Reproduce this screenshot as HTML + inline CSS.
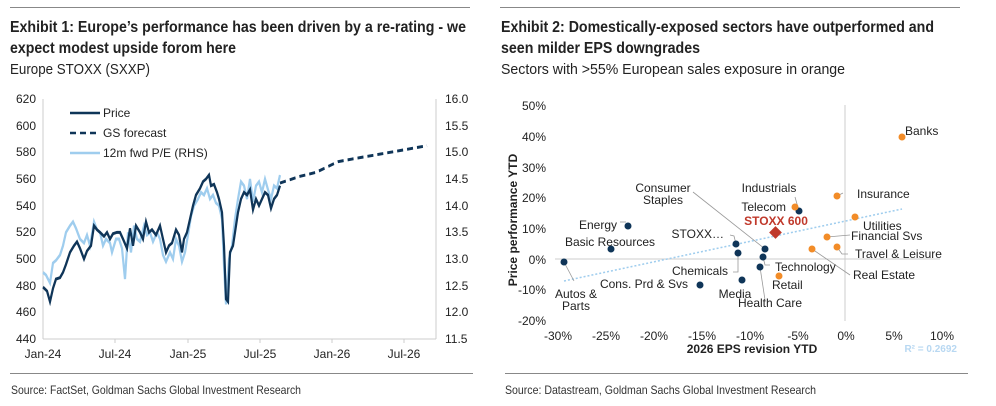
<!DOCTYPE html>
<html><head><meta charset="utf-8"><style>
html,body{margin:0;padding:0;background:#fff;}
svg{display:block;font-family:"Liberation Sans",Arial,sans-serif;}
</style></head><body>
<svg width="996" height="406" viewBox="0 0 996 406" xmlns="http://www.w3.org/2000/svg">
<line x1="10" y1="7.5" x2="470" y2="7.5" stroke="#888" stroke-width="1"/>
<line x1="500" y1="7.5" x2="960" y2="7.5" stroke="#888" stroke-width="1"/>
<g fill="#222" font-weight="bold" font-size="16">
<text x="10" y="32" textLength="456" lengthAdjust="spacingAndGlyphs">Exhibit 1: Europe’s performance has been driven by a re-rating - we</text>
<text x="10" y="53" textLength="226" lengthAdjust="spacingAndGlyphs">expect modest upside forom here</text>
<text x="501" y="32" textLength="433" lengthAdjust="spacingAndGlyphs">Exhibit 2: Domestically-exposed sectors have outperformed and</text>
<text x="501" y="53" textLength="199" lengthAdjust="spacingAndGlyphs">seen milder EPS downgrades</text>
</g>
<g fill="#222" font-size="15">
<text x="10" y="74" textLength="140" lengthAdjust="spacingAndGlyphs">Europe STOXX (SXXP)</text>
<text x="501" y="74" textLength="344" lengthAdjust="spacingAndGlyphs">Sectors with &gt;55% European sales exposure in orange</text>
</g>

<!-- LEFT CHART -->
<g stroke="#ccc" stroke-width="1">
<line x1="43" y1="99" x2="43" y2="339"/>
<line x1="43" y1="339" x2="436" y2="339"/>
<line x1="436" y1="99" x2="436" y2="339"/>
<line x1="115" y1="339" x2="115" y2="343"/><line x1="188" y1="339" x2="188" y2="343"/>
<line x1="260" y1="339" x2="260" y2="343"/><line x1="332" y1="339" x2="332" y2="343"/>
<line x1="404" y1="339" x2="404" y2="343"/>
</g>
<g fill="#222" font-size="12" text-anchor="end">
<text x="36" y="103">620</text><text x="36" y="130">600</text><text x="36" y="156">580</text>
<text x="36" y="183">560</text><text x="36" y="210">540</text><text x="36" y="236">520</text>
<text x="36" y="263">500</text><text x="36" y="290">480</text><text x="36" y="316">460</text>
<text x="36" y="343">440</text>
</g>
<g fill="#222" font-size="12">
<text x="445" y="103">16.0</text><text x="445" y="130">15.5</text><text x="445" y="156">15.0</text>
<text x="445" y="183">14.5</text><text x="445" y="210">14.0</text><text x="445" y="236">13.5</text>
<text x="445" y="263">13.0</text><text x="445" y="290">12.5</text><text x="445" y="316">12.0</text>
<text x="445" y="343">11.5</text>
</g>
<g fill="#222" font-size="12" text-anchor="middle">
<text x="43" y="358">Jan-24</text><text x="115" y="358">Jul-24</text><text x="188" y="358">Jan-25</text>
<text x="260" y="358">Jul-25</text><text x="332" y="358">Jan-26</text><text x="404" y="358">Jul-26</text>
</g>
<g transform="translate(0,925.67) scale(1,-1.3333)">
<polyline fill="none" stroke="#9fcdee" stroke-width="2.2" points="43,490 46,488 50,482 53,497 56,499 60,503 63,510 66,520 70,525 73,528 76,523 80,515 84,512 87,518 90,510 94,528 97,522 100,520 103,510 106,515 110,512 112,505 116,515 119,515 122,508 125,485 128,520 131,505 134,525 137,515 140,513 144,525 147,518 150,520 153,513 157,520 160,515 163,503 166,498 170,505 173,500 176,515 179,510 182,498 185,505 188,518 191,532 194,540 198,545 201,550 204,548 207,553 210,545 213,548 216,542 219,540 222,530 224,495 226,466 229,500 232,510 235,530 238,545 241,558 244,555 247,545 250,560 253,543 256,555 259,558 262,550 265,560 268,552 271,545 274,555 277,553 280,563"/>
<polyline fill="none" stroke="#0f3558" stroke-width="2.2" points="43,479 47,476 50,468 53,478 56,485 60,486 63,490 66,496 70,505 74,510 77,513 80,508 84,500 87,506 91,510 94,525 97,522 100,520 104,517 107,520 110,515 113,519 117,520 120,520 123,515 127,508 130,523 133,510 136,525 140,520 143,515 146,528 149,520 152,522 156,518 160,525 163,515 166,505 169,510 172,512 176,522 179,518 182,505 184,515 187,520 190,530 193,540 196,548 200,553 203,558 206,560 209,563 211,555 214,556 217,550 219,545 222,535 224,510 226,470 228,468 230,505 233,510 236,525 238,535 241,545 244,550 247,548 250,552 253,537 256,545 259,540 262,545 265,550 268,548 271,538 274,545 277,548 280,555"/>
<polyline fill="none" stroke="#0f3558" stroke-width="2.2" stroke-dasharray="6,4" points="280,557 300,562 316,565 338,573 352,575 390,580 427,585"/>
</g>
<line x1="70" y1="113" x2="100" y2="113" stroke="#0f3558" stroke-width="2.5"/>
<line x1="70" y1="133" x2="100" y2="133" stroke="#0f3558" stroke-width="2.5" stroke-dasharray="6,4"/>
<line x1="70" y1="153" x2="100" y2="153" stroke="#9fcdee" stroke-width="2.5"/>
<g fill="#222" font-size="12">
<text x="103" y="117">Price</text><text x="103" y="137">GS forecast</text><text x="103" y="157">12m fwd P/E (RHS)</text>
</g>

<!-- RIGHT CHART -->
<line x1="555" y1="259" x2="940" y2="259" stroke="#ccc"/>
<line x1="845" y1="105" x2="845" y2="321" stroke="#ccc"/>
<g fill="#222" font-size="12" text-anchor="end">
<text x="546" y="110">50%</text><text x="546" y="141">40%</text><text x="546" y="172">30%</text>
<text x="546" y="202">20%</text><text x="546" y="233">10%</text><text x="546" y="264">0%</text>
<text x="546" y="294">-10%</text><text x="546" y="325">-20%</text>
</g>
<g fill="#222" font-size="12" text-anchor="middle">
<text x="558" y="340">-30%</text><text x="606" y="340">-25%</text><text x="654" y="340">-20%</text>
<text x="702" y="340">-15%</text><text x="750" y="340">-10%</text><text x="798" y="340">-5%</text>
<text x="846" y="340">0%</text><text x="894" y="340">5%</text><text x="942" y="340">10%</text>
</g>
<text x="752" y="353" font-size="12" font-weight="bold" text-anchor="middle" fill="#222">2026 EPS revision YTD</text>
<text x="957" y="352" font-size="10" font-weight="bold" text-anchor="end" fill="#b8d8f2">R² = 0.2692</text>
<text transform="translate(517,220) rotate(-90)" font-size="12" font-weight="bold" text-anchor="middle" fill="#222">Price performance YTD</text>
<line x1="564" y1="281" x2="902" y2="209" stroke="#9fcdee" stroke-width="1.5" stroke-dasharray="2,2"/>
<g stroke="#999" stroke-width="0.8" fill="none">
<polyline points="693,192 765,249"/>
<polyline points="620,222 626,222"/>
<polyline points="730,235 734,236 736,244"/>
<polyline points="738,253 738,272 733,272"/>
<polyline points="763,257 765,265 770,265"/>
<polyline points="760,267 765,300"/>
<polyline points="564,262 574,281"/>
<polyline points="799,211 795,197"/>
<polyline points="837,196 843,193"/>
<polyline points="827,237 850,235"/>
<polyline points="837,247 842,254 848,254"/>
<polyline points="812,249 850,275"/>
</g>
<g fill="#0f3558">
<circle cx="799" cy="211" r="3.5"/><circle cx="628" cy="226" r="3.5"/><circle cx="611" cy="249" r="3.5"/>
<circle cx="736" cy="244" r="3.5"/><circle cx="765" cy="249" r="3.5"/><circle cx="738" cy="253" r="3.5"/>
<circle cx="763" cy="257" r="3.5"/><circle cx="564" cy="262" r="3.5"/><circle cx="760" cy="267" r="3.5"/>
<circle cx="742" cy="280" r="3.5"/><circle cx="700" cy="285" r="3.5"/>
</g>
<g fill="#f28c28">
<circle cx="902" cy="137" r="3.5"/><circle cx="837" cy="196" r="3.5"/><circle cx="795" cy="207" r="3.5"/>
<circle cx="855" cy="217" r="3.5"/><circle cx="827" cy="237" r="3.5"/><circle cx="837" cy="247" r="3.5"/>
<circle cx="812" cy="249" r="3.5"/><circle cx="779" cy="276" r="3.5"/>
</g>
<rect x="771" y="228" width="9" height="9" fill="#c0392b" transform="rotate(45 775.5 232.5)"/>
<text x="776" y="225" font-size="12" font-weight="bold" text-anchor="middle" fill="#c0392b">STOXX 600</text>
<g fill="#222" font-size="12">
<text x="905" y="135">Banks</text>
<text x="857" y="198">Insurance</text>
<text x="769" y="192" text-anchor="middle">Industrials</text>
<text x="786" y="211" text-anchor="end">Telecom</text>
<text x="863" y="230">Utilities</text>
<text x="851" y="240">Financial Svs</text>
<text x="855" y="258">Travel &amp; Leisure</text>
<text x="853" y="279">Real Estate</text>
<text x="775" y="271">Technology</text>
<text x="772" y="289">Retail</text>
<text x="770" y="307" text-anchor="middle">Health Care</text>
<text x="735" y="298" text-anchor="middle">Media</text>
<text x="688" y="288" text-anchor="end">Cons. Prd &amp; Svs</text>
<text x="728" y="275" text-anchor="end">Chemicals</text>
<text x="724" y="238" text-anchor="end">STOXX…</text>
<text x="655" y="246" text-anchor="end">Basic Resources</text>
<text x="617" y="229" text-anchor="end">Energy</text>
<text x="663" y="192" text-anchor="middle">Consumer</text>
<text x="663" y="204" text-anchor="middle">Staples</text>
<text x="576" y="298" text-anchor="middle">Autos &amp;</text>
<text x="576" y="310" text-anchor="middle">Parts</text>
</g>

<line x1="10" y1="373.5" x2="473" y2="373.5" stroke="#888"/>
<line x1="505" y1="373.5" x2="968" y2="373.5" stroke="#888"/>
<g fill="#333" font-size="12">
<text x="11" y="394" textLength="290" lengthAdjust="spacingAndGlyphs">Source: FactSet, Goldman Sachs Global Investment Research</text>
<text x="505" y="394" textLength="311" lengthAdjust="spacingAndGlyphs">Source: Datastream, Goldman Sachs Global Investment Research</text>
</g>
</svg>
</body></html>
